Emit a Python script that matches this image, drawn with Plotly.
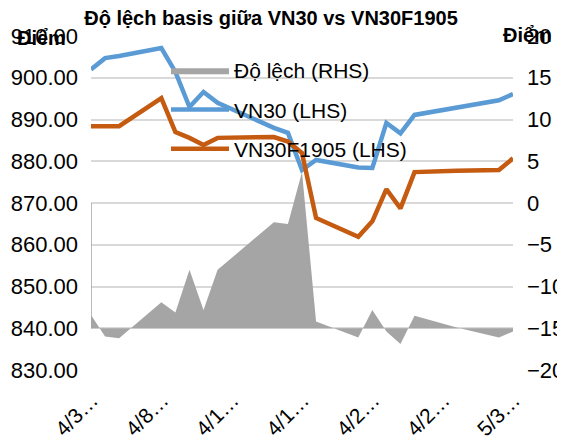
import plotly.graph_objects as go

# ---- data ----
dates = ["2019-04-03", "2019-04-04", "2019-04-05", "2019-04-08", "2019-04-09",
         "2019-04-10", "2019-04-11", "2019-04-12", "2019-04-16", "2019-04-17",
         "2019-04-18", "2019-04-19", "2019-04-22", "2019-04-23", "2019-04-24",
         "2019-04-25", "2019-04-26", "2019-04-29", "2019-05-02", "2019-05-03"]
vn30 = [902.0, 904.7, 905.2, 907.1, 901.4, 893.0, 896.6, 894.0, 888.0, 886.8,
        877.9, 880.3, 878.5, 878.4, 889.2, 886.7, 891.1, 892.8, 894.6, 896.1]
vn30f = [888.4, 888.4, 888.4, 895.1, 887.0, 885.6, 883.9, 885.6, 885.8, 884.7,
         882.0, 866.4, 861.9, 865.6, 873.3, 868.7, 877.4, 877.7, 877.9, 880.7]
dev = [-13.4, -16.0, -16.2, -11.9, -13.1, -8.0, -12.8, -8.0, -2.3, -2.5,
       3.7, -14.2, -16.1, -12.8, -15.4, -16.9, -13.5, -14.9, -16.1, -15.4]
dev_base = -15          # horizontal axis crossing of the area series
tick_dates = ["2019-04-03", "2019-04-08", "2019-04-13", "2019-04-18",
              "2019-04-23", "2019-04-28", "2019-05-03"]
tick_text = ["4/3…", "4/8…", "4/1…", "4/1…", "4/2…", "4/2…", "5/3…"]
left_ticks = [830, 840, 850, 860, 870, 880, 890, 900, 910]
right_ticks = [-20, -15, -10, -5, 0, 5, 10, 15, 20]

FONT = "Liberation Sans, Arial, sans-serif"
GRAY = "#A5A5A5"
BLUE = "#5B9BD5"
ORANGE = "#C55A11"

# the page body adds an 8px margin; size the figure to fit the window
W, H, OFF = 557, 431, 8
PL, PR, PT, PB = 91 - OFF, 513 - OFF, 36 - OFF, 370 - OFF   # plot box
PW, PH = PR - PL, PB - PT

fig = go.Figure()

# area baseline (invisible) + area filled to it
fig.add_trace(go.Scatter(x=dates, y=[dev_base] * len(dates), yaxis="y2",
                         mode="lines", line=dict(width=0, color=GRAY),
                         showlegend=False, hoverinfo="skip", legendgroup="a"))
fig.add_trace(go.Scatter(x=dates, y=dev, yaxis="y2", mode="lines",
                         name="Độ lệch (RHS)", fill="tonexty", legendgroup="a",
                         fillcolor=GRAY, line=dict(width=0, color=GRAY)))
# thin left edge of the area
fig.add_trace(go.Scatter(x=[dates[0], dates[0]], y=[dev_base, 0], yaxis="y2",
                         mode="lines", line=dict(width=1.5, color=GRAY),
                         showlegend=False, hoverinfo="skip", legendgroup="a"))
fig.add_trace(go.Scatter(x=dates, y=vn30, mode="lines", name="VN30 (LHS)",
                         legendgroup="b", line=dict(width=4.5, color=BLUE)))
fig.add_trace(go.Scatter(x=dates, y=vn30f, mode="lines", name="VN30F1905 (LHS)",
                         legendgroup="c", line=dict(width=4.5, color=ORANGE)))

fig.update_layout(
    width=W, height=H,
    margin=dict(l=PL, r=W - PR, t=PT, b=H - PB, autoexpand=False),
    paper_bgcolor="white", plot_bgcolor="white",
    font=dict(family=FONT, color="#000000"),
    title=dict(text="<b>Độ lệch basis giữa VN30 vs VN30F1905</b>",
               font=dict(size=20, family=FONT, color="#000000"),
               x=(271 - OFF) / W, xanchor="center", xref="container",
               y=1 - (18 - OFF) / H, yanchor="middle", yref="container"),
    xaxis=dict(type="date", range=[dates[0], dates[-1]],
               tickvals=tick_dates, ticktext=tick_text, tickangle=-45,
               tickfont=dict(size=21), showgrid=False, zeroline=False,
               showline=False, ticks="", automargin=False,
               ticklabelstandoff=13, ticklabelshift=1),
    yaxis=dict(range=[830, 910], tickvals=left_ticks, tickformat=".2f",
               tickfont=dict(size=22), showgrid=True, gridcolor="#D9D9D9",
               gridwidth=1.5, zeroline=False, showline=False,
               ticklabelstandoff=12, automargin=False),
    yaxis2=dict(range=[-20, 20], tickvals=right_ticks, overlaying="y",
                side="right", tickfont=dict(size=22), showgrid=False,
                zeroline=False, showline=False, ticklabelstandoff=13,
                automargin=False),
    legend=dict(x=(166 - 91) / PW, y=1 - (50 - 36) / PH,
                xanchor="left", yanchor="top", traceorder="grouped",
                bgcolor="rgba(0,0,0,0)", font=dict(size=21),
                itemwidth=58, tracegroupgap=9),
    showlegend=True,
    annotations=[
        dict(text="<b>Điểm</b>", xref="paper", yref="paper",
             x=-(91 - 41) / PW, y=1 - (38 - 36) / PH,
             xanchor="center", yanchor="middle", showarrow=False,
             font=dict(size=20, family=FONT)),
        dict(text="<b>Điểm</b>", xref="paper", yref="paper",
             x=1 + (527 - 513) / PW, y=1 + (36 - 35) / PH,
             xanchor="center", yanchor="middle", showarrow=False,
             font=dict(size=20, family=FONT)),
    ],
)

fig.write_html("out.html")
